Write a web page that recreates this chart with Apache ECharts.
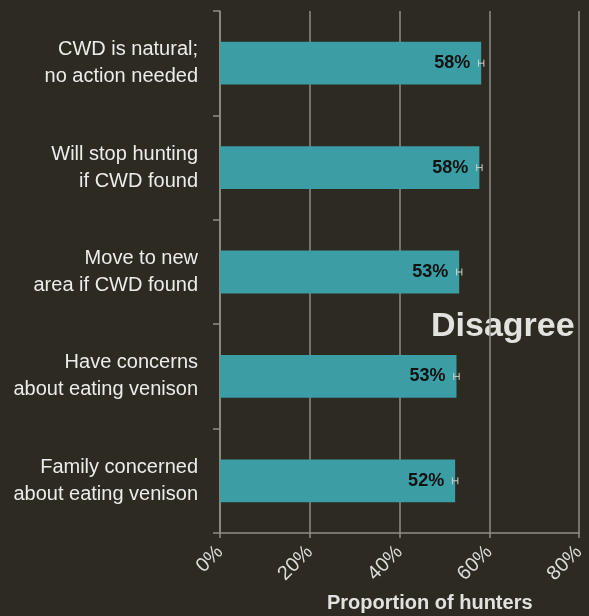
<!DOCTYPE html>
<html>
<head>
<meta charset="utf-8">
<script src="https://cdn.jsdelivr.net/npm/echarts@6/dist/echarts.min.js"></script>
<style>
html,body{margin:0;padding:0;background:#2d2a22;}
#chart{width:589px;height:616px;}
</style>
</head>
<body>
<div id="chart"></div>
<script>
var categories = [
  "CWD is natural;\nno action needed",
  "Will stop hunting\nif CWD found",
  "Move to new\narea if CWD found",
  "Have concerns\nabout eating venison",
  "Family concerned\nabout eating venison"
];
var values = [58.2, 57.8, 53.3, 52.7, 52.4];
var errLow = [57.6, 57.2, 52.7, 52.1, 51.8];
var errHigh = [58.8, 58.4, 53.9, 53.3, 53.0];
var xTicks = [0, 20, 40, 60, 80];

var chart = echarts.init(document.getElementById('chart'), null, {renderer: 'canvas'});
var gridCol = '#8f8d86';
var errData = values.map(function (v, i) { return [i, errLow[i], errHigh[i]]; });

chart.setOption({
  backgroundColor: '#2d2a22',
  animation: false,
  textStyle: {fontFamily: 'Liberation Sans, Arial, sans-serif'},
  grid: {left: 220, right: 10, top: 11, bottom: 83, containLabel: false},
  xAxis: {
    type: 'value',
    min: xTicks[0],
    max: xTicks[xTicks.length - 1],
    interval: 20,
    axisLine: {show: true, lineStyle: {color: gridCol, width: 1.5}},
    axisTick: {show: true, length: 5, lineStyle: {color: gridCol, width: 1.5}},
    splitLine: {show: true, lineStyle: {color: gridCol, width: 1.5}},
    axisLabel: {
      formatter: '{value}%',
      rotate: 45,
      fontSize: 20,
      color: '#dcdcd8',
      margin: 16
    }
  },
  yAxis: {
    type: 'category',
    inverse: true,
    data: categories,
    axisLine: {show: true, lineStyle: {color: gridCol, width: 1.5}},
    axisTick: {show: true, length: 7, alignWithLabel: false, lineStyle: {color: gridCol, width: 1.5}},
    axisLabel: {
      fontSize: 20,
      lineHeight: 27,
      color: '#ececea',
      margin: 22,
      align: 'right'
    }
  },
  series: [
    {
      type: 'bar',
      data: values,
      barWidth: '41%',
      itemStyle: {color: '#3a9ea4'},
      label: {
        show: true,
        position: 'insideRight',
        distance: 11,
        formatter: function (p) { return Math.round(p.value) + '%'; },
        color: '#111',
        fontWeight: 'bold',
        fontSize: 18
      },
      z: 2
    },
    {
      type: 'custom',
      data: errData,
      z: 3,
      renderItem: function (params, api) {
        var ci = api.value(0);
        var lo = api.coord([api.value(1), ci]);
        var hi = api.coord([api.value(2), ci]);
        var h = 3.5;
        var st = {stroke: '#d0d0cb', lineWidth: 1};
        return {
          type: 'group',
          children: [
            {type: 'line', shape: {x1: lo[0], y1: lo[1], x2: hi[0], y2: hi[1]}, style: st},
            {type: 'line', shape: {x1: lo[0], y1: lo[1] - h, x2: lo[0], y2: lo[1] + h}, style: st},
            {type: 'line', shape: {x1: hi[0], y1: hi[1] - h, x2: hi[0], y2: hi[1] + h}, style: st}
          ]
        };
      }
    }
  ],
  graphic: [
    {
      type: 'text',
      left: 431,
      top: 310,
      style: {text: 'Disagree', fontSize: 34, fontWeight: 'bold', fill: '#e2e2df', fontFamily: 'Liberation Sans, Arial, sans-serif'}
    },
    {
      type: 'text',
      left: 327,
      top: 593,
      style: {text: 'Proportion of hunters', fontSize: 20, fontWeight: 'bold', fill: '#e2e2df', fontFamily: 'Liberation Sans, Arial, sans-serif'}
    }
  ]
});
</script>
</body>
</html>
